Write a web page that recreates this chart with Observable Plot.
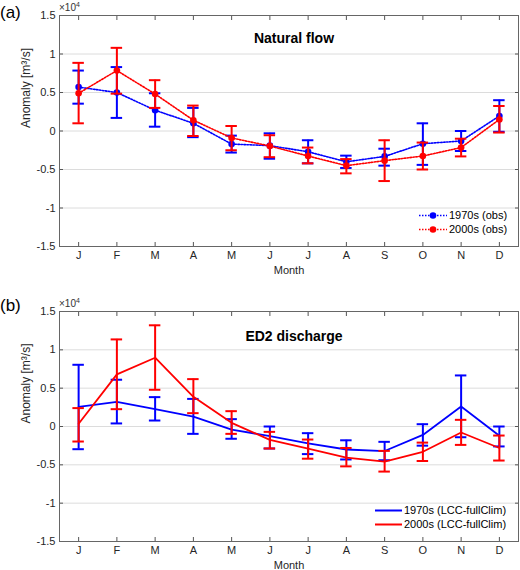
<!DOCTYPE html>
<html>
<head>
<meta charset="utf-8">
<script src="https://cdn.jsdelivr.net/npm/d3@7"></script>
<script src="https://cdn.jsdelivr.net/npm/@observablehq/plot@0.6"></script>
<style>
  html, body { margin: 0; padding: 0; background: #fff; }
  body { font-family: "Liberation Sans", Arial, Helvetica, sans-serif; color: #262626; }
  #wrap { position: relative; width: 520px; height: 570px; overflow: hidden; }
  .panel { position: absolute; left: 0; width: 520px; }
  .tag { position: absolute; left: 0; font-size: 17px; line-height: 17px; color: #000; }
  .exp { position: absolute; left: 59px; font-size: 10px; line-height: 10px; color: #333; }
  .exp sup { font-size: 7px; vertical-align: 4px; line-height: 0; }
  .legend { position: absolute; font-size: 11px; line-height: 13px; color: #000; }
  .legend .row { display: flex; align-items: center; height: 13.5px; white-space: nowrap; }
  .legend svg { margin-right: 2px; }
</style>
</head>
<body>
<div id="wrap">
  <div class="panel" id="pa" style="top:0px"></div>
  <div class="panel" id="pb" style="top:280px"></div>
</div>
<script>
// ---- data (values in units of 10^4 m^3/s) ----
const months = ["J","F","M","A","M","J","J","A","S","O","N","D"];
const monthNums = [1,2,3,4,5,6,7,8,9,10,11,12];
const yTicks = [-1.5,-1,-0.5,0,0.5,1,1.5];

// (a) Natural flow
const natBlue   = [0.57, 0.50, 0.27, 0.10, -0.17, -0.19, -0.27, -0.40, -0.33, -0.165, -0.13, 0.195];
const natBlueLo = [0.355, 0.17, 0.056, -0.08, -0.28, -0.36, -0.42, -0.48, -0.45, -0.44, -0.26, -0.01];
const natBlueHi = [0.785, 0.83, 0.49, 0.30, -0.06, -0.03, -0.12, -0.32, -0.23, 0.10, 0.0, 0.40];
const natRed    = [0.49, 0.785, 0.48, 0.14, -0.09, -0.195, -0.325, -0.45, -0.385, -0.325, -0.215, 0.15];
const natRedLo  = [0.10, 0.485, 0.30, -0.065, -0.25, -0.34, -0.42, -0.55, -0.65, -0.50, -0.33, -0.02];
const natRedHi  = [0.885, 1.08, 0.66, 0.33, 0.065, -0.055, -0.215, -0.365, -0.12, -0.15, -0.10, 0.325];

// (b) ED2 discharge
const ed2Blue   = [0.257, 0.322, 0.226, 0.13, -0.04, -0.126, -0.22, -0.30, -0.32, -0.11, 0.26, -0.12];
const ed2BlueLo = [-0.296, 0.04, 0.078, -0.096, -0.16, -0.287, -0.36, -0.43, -0.44, -0.25, -0.14, -0.26];
const ed2BlueHi = [0.805, 0.61, 0.383, 0.36, 0.096, 0.0, -0.087, -0.18, -0.20, 0.03, 0.666, 0.0];
const ed2Red    = [0.035, 0.68, 0.897, 0.387, 0.048, -0.174, -0.29, -0.405, -0.457, -0.33, -0.078, -0.28];
const ed2RedLo  = [-0.196, 0.226, 0.479, 0.174, -0.096, -0.287, -0.42, -0.52, -0.588, -0.45, -0.24, -0.444];
const ed2RedHi  = [0.24, 1.136, 1.32, 0.618, 0.20, -0.07, -0.17, -0.28, -0.318, -0.21, 0.087, -0.118];

const seriesA = [
  {name: "1970s (obs)", color: "#0000ff", v: natBlue, lo: natBlueLo, hi: natBlueHi},
  {name: "2000s (obs)", color: "#ff0000", v: natRed, lo: natRedLo, hi: natRedHi}
];
const seriesB = [
  {name: "1970s (LCC-fullClim)", color: "#0000ff", v: ed2Blue, lo: ed2BlueLo, hi: ed2BlueHi},
  {name: "2000s (LCC-fullClim)", color: "#ff0000", v: ed2Red, lo: ed2RedLo, hi: ed2RedHi}
];

function rowsOf(s) {
  return monthNums.map((m, i) => ({m, v: s.v[i], lo: s.lo[i], hi: s.hi[i]}));
}

function panel({series, dotted, height, marginTop, marginBottom, title, titleDy}) {
  const marks = [
    Plot.gridY(yTicks, {stroke: "#dcdcdc", strokeOpacity: 1, strokeWidth: 1}),
    Plot.axisX(monthNums, {anchor: "bottom", tickSize: -4, tickPadding: 9, tickFormat: d => months[d - 1],
      label: "Month", labelAnchor: "center", labelOffset: 27, labelArrow: false, stroke: "#555", fill: "#262626"}),
    Plot.axisX(monthNums, {anchor: "top", tickSize: -4, tickFormat: () => "", label: null, stroke: "#555"}),
    Plot.axisY(yTicks, {anchor: "left", tickSize: -4, tickPadding: 8, tickFormat: d => String(d),
      label: null, stroke: "#555", fill: "#262626"}),
    Plot.axisY(yTicks, {anchor: "right", tickSize: -4, tickFormat: () => "", label: null, stroke: "#555"}),
    Plot.text(["Anomaly [m³/s]"], {text: d => d, frameAnchor: "left", rotate: -90, dx: -33, dy: -3, fontSize: 12, fill: "#262626"}),
    Plot.text([title], {text: d => d, frameAnchor: "top", dx: 5, dy: titleDy, fontWeight: "bold", fontSize: 14, fill: "#000"})
  ];
  for (const s of series) {
    const rows = rowsOf(s);
    marks.push(
      Plot.ruleX(rows, {x: "m", y1: "lo", y2: "hi", stroke: s.color, strokeWidth: 2}),
      Plot.ruleY(rows, {y: "hi", x1: d => d.m - 0.15, x2: d => d.m + 0.15, stroke: s.color, strokeWidth: 2}),
      Plot.ruleY(rows, {y: "lo", x1: d => d.m - 0.15, x2: d => d.m + 0.15, stroke: s.color, strokeWidth: 2}),
      Plot.line(rows, dotted
        ? {x: "m", y: "v", stroke: s.color, strokeWidth: 1.6, strokeDasharray: "1.5,1.5"}
        : {x: "m", y: "v", stroke: s.color, strokeWidth: 1.8})
    );
    if (dotted) marks.push(Plot.dot(rows, {x: "m", y: "v", fill: s.color, r: 3.3}));
  }
  marks.push(Plot.frame({stroke: "#666", strokeWidth: 1}));
  return Plot.plot({
    width: 520,
    height,
    marginTop,
    marginBottom,
    marginLeft: 59,
    marginRight: 2,
    style: {fontFamily: "'Liberation Sans', Arial, Helvetica, sans-serif", fontSize: "11px", background: "transparent", color: "#262626"},
    x: {type: "linear", domain: [0.5, 12.5]},
    y: {type: "linear", domain: [-1.5, 1.5]},
    marks
  });
}

function legendHtml(series, dotted, left, top, lineW) {
  const rows = series.map(s => {
    const dash = dotted ? ` stroke-dasharray="1.5,1.5"` : "";
    const dot = dotted ? `<circle cx="${lineW/2}" cy="6.5" r="3.3" fill="${s.color}"/>` : "";
    return `<div class="row"><svg width="${lineW}" height="13"><line x1="0" x2="${lineW}" y1="6.5" y2="6.5" stroke="${s.color}" stroke-width="${dotted ? 1.6 : 2}"${dash}/>${dot}</svg><span>${s.name}</span></div>`;
  }).join("");
  return `<div class="legend" style="left:${left}px;top:${top}px">${rows}</div>`;
}

const pa = document.getElementById("pa");
pa.appendChild(panel({series: seriesA, dotted: true, height: 280, marginTop: 15, marginBottom: 34, title: "Natural flow", titleDy: 18}));
pa.insertAdjacentHTML("beforeend", `<div class="tag" style="top:4px">(a)</div><div class="exp" style="top:3px">×10<sup>4</sup></div>`);
pa.insertAdjacentHTML("beforeend", legendHtml(seriesA, true, 419, 209, 28));

const pb = document.getElementById("pb");
pb.appendChild(panel({series: seriesB, dotted: false, height: 290, marginTop: 31, marginBottom: 29, title: "ED2 discharge", titleDy: 20}));
pb.insertAdjacentHTML("beforeend", `<div class="tag" style="top:17px">(b)</div><div class="exp" style="top:19px">×10<sup>4</sup></div>`);
pb.insertAdjacentHTML("beforeend", legendHtml(seriesB, false, 375, 224, 27));
</script>
</body>
</html>
